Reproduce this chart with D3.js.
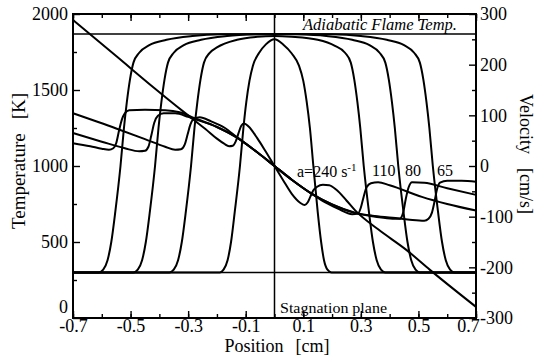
<!DOCTYPE html>
<html><head><meta charset="utf-8">
<script src="https://cdn.jsdelivr.net/npm/d3@7"></script>
<style>
body{margin:0;background:#fff}
svg{display:block}
text{font-family:"Liberation Serif","Times New Roman",serif;fill:#000}
</style>
</head><body>
<svg id="chart" width="543" height="359"></svg>
<script>
// ---------- data ----------
const xTickLabels = [-0.7,-0.5,-0.3,-0.1,0.1,0.3,0.5,0.7];
const tempTicks = [0,500,1000,1500,2000];
const velTicks = [-300,-200,-100,0,100,200,300];
const strainRates = ["240","110","80","65"];
const adiabaticT = 1868;
const unburnedT = 300;

// temperature profiles [position cm, K]
const temp65 = [[-0.7,300],[-0.61,300],[-0.595,318],[-0.58,380],[-0.567,500],[-0.553,700],[-0.535,1000],[-0.523,1250],[-0.513,1420],[-0.502,1570],[-0.49,1680],[-0.47,1745],[-0.435,1795],[-0.375,1830],[-0.285,1855],[-0.185,1866],[0,1868],[0.2,1866],[0.3,1855],[0.39,1830],[0.45,1795],[0.485,1745],[0.505,1680],[0.517,1570],[0.528,1420],[0.538,1250],[0.55,1000],[0.568,700],[0.582,500],[0.595,380],[0.61,318],[0.625,300],[0.7,300]];
const temp80 = [[-0.7,300],[-0.49,300],[-0.475,318],[-0.46,380],[-0.447,500],[-0.433,700],[-0.415,1000],[-0.403,1250],[-0.393,1420],[-0.382,1570],[-0.37,1680],[-0.35,1745],[-0.315,1795],[-0.255,1830],[-0.165,1855],[-0.065,1866],[0,1868],[0.08,1866],[0.18,1855],[0.27,1830],[0.33,1795],[0.365,1745],[0.385,1680],[0.397,1570],[0.408,1420],[0.418,1250],[0.43,1000],[0.448,700],[0.462,500],[0.475,380],[0.49,318],[0.505,300],[0.7,300]];
const temp110 = [[-0.7,300],[-0.365,300],[-0.35,318],[-0.335,380],[-0.322,500],[-0.308,700],[-0.29,1000],[-0.278,1250],[-0.268,1420],[-0.257,1570],[-0.245,1680],[-0.225,1745],[-0.2,1780],[-0.13,1830],[-0.06,1850],[0,1855],[0.06,1850],[0.15,1830],[0.21,1790],[0.245,1745],[0.265,1680],[0.277,1570],[0.288,1420],[0.298,1250],[0.31,1000],[0.328,700],[0.342,500],[0.355,380],[0.37,318],[0.385,300],[0.7,300]];
const temp240 = [[-0.7,300],[-0.19,300],[-0.177,318],[-0.163,380],[-0.151,500],[-0.138,700],[-0.12,1000],[-0.108,1250],[-0.098,1420],[-0.087,1560],[-0.075,1660],[-0.055,1740],[-0.03,1800],[0,1834],[0.03,1800],[0.06,1740],[0.085,1660],[0.1,1560],[0.112,1420],[0.123,1250],[0.135,1000],[0.15,700],[0.162,500],[0.172,380],[0.184,318],[0.198,300],[0.7,300]];

// velocity profiles [position cm, cm/s]
const vel65 = [[-0.7,45],[-0.64,39],[-0.6,34],[-0.575,32],[-0.56,35],[-0.55,45],[-0.54,70],[-0.53,92],[-0.52,104],[-0.505,110],[-0.45,111],[-0.38,110],[-0.33,106],[-0.28,95],[-0.2,77],[-0.13,56],[-0.06,27],[0,0],[0.06,-27],[0.13,-55],[0.2,-76],[0.28,-92],[0.34,-98],[0.41,-102],[0.47,-106],[0.52,-108],[0.535,-104],[0.547,-92],[0.556,-70],[0.565,-45],[0.575,-33],[0.6,-29],[0.65,-29],[0.7,-31]];
const vel80 = [[-0.7,65],[-0.6,48],[-0.52,35],[-0.47,29],[-0.45,30],[-0.438,38],[-0.428,60],[-0.418,85],[-0.405,99],[-0.385,104],[-0.345,104],[-0.3,97],[-0.28,93],[-0.2,77],[-0.13,56],[-0.06,27],[0,0],[0.06,-27],[0.13,-55],[0.2,-76],[0.28,-93],[0.35,-100],[0.41,-104],[0.435,-104],[0.447,-92],[0.456,-65],[0.466,-42],[0.478,-32],[0.52,-33],[0.6,-44],[0.7,-57]];
const vel110 = [[-0.7,104],[-0.55,74],[-0.45,53],[-0.38,38],[-0.345,32],[-0.325,33],[-0.312,42],[-0.302,62],[-0.292,82],[-0.28,93],[-0.26,96],[-0.22,88],[-0.172,75],[-0.131,57],[-0.06,27],[0,0],[0.06,-27],[0.13,-55],[0.17,-70],[0.22,-84],[0.27,-95],[0.29,-94],[0.3,-82],[0.31,-60],[0.32,-42],[0.335,-34],[0.36,-32],[0.4,-38],[0.512,-61],[0.6,-75],[0.7,-88]];
const vel240 = [[-0.7,288],[-0.55,217],[-0.42,155],[-0.34,118],[-0.28,91],[-0.24,73],[-0.2,54],[-0.175,44],[-0.158,39],[-0.145,40],[-0.135,48],[-0.125,65],[-0.115,80],[-0.105,84],[-0.09,78],[-0.06,55],[-0.03,28],[0,0],[0.03,-28],[0.06,-55],[0.09,-73],[0.105,-77],[0.115,-72],[0.125,-60],[0.135,-48],[0.148,-41],[0.168,-37],[0.19,-38],[0.215,-47],[0.25,-68],[0.281,-88],[0.36,-125],[0.459,-166],[0.54,-205],[0.7,-278]];

// ---------- layout ----------
const L = 73, R = 476, T = 14, B = 318;
const svg = d3.select("#chart");
const x = d3.scaleLinear().domain([-0.7,0.7]).range([L,R]);
const yT = d3.scaleLinear().domain([0,2000]).range([B,T]);
const yV = d3.scaleLinear().domain([-300,300]).range([B,T]);
const fmtX = d => (d<0?"-":"") + Math.abs(d).toFixed(1);
const fmtV = d => (d<0?"-":"") + Math.abs(d);

const lineT = d3.line().x(d=>x(d[0])).y(d=>yT(d[1])).curve(d3.curveMonotoneX);
const lineV = d3.line().x(d=>x(d[0])).y(d=>yV(d[1])).curve(d3.curveMonotoneX);

const g = svg.append("g");
// reference lines
g.append("line").attr("x1",L).attr("x2",R).attr("y1",yT(adiabaticT)).attr("y2",yT(adiabaticT))
 .attr("stroke","#000").attr("stroke-width",1.5);
g.append("line").attr("x1",L).attr("x2",R).attr("y1",yT(unburnedT)).attr("y2",yT(unburnedT))
 .attr("stroke","#000").attr("stroke-width",1.5);
g.append("line").attr("x1",x(0)).attr("x2",x(0)).attr("y1",T).attr("y2",B)
 .attr("stroke","#000").attr("stroke-width",1.5);

[temp65,temp80,temp110,temp240].forEach(d=>{
  g.append("path").attr("d",lineT(d)).attr("fill","none").attr("stroke","#000").attr("stroke-width",2);
});
[vel65,vel80,vel110,vel240].forEach(d=>{
  g.append("path").attr("d",lineV(d)).attr("fill","none").attr("stroke","#000").attr("stroke-width",2);
});

// axes
const minorX = d3.range(-0.7,0.7001,0.1).map(v=>+v.toFixed(2));
function styleAxis(sel){ sel.select(".domain").remove(); sel.attr("font-family",null); sel.selectAll("line").attr("stroke","#000").attr("stroke-width",1.4); sel.selectAll("text").style("font-family","'Liberation Serif',serif").style("font-size","18px").attr("fill","#000"); }
const bx = svg.append("g").attr("transform",`translate(0,${B})`)
  .call(d3.axisBottom(x).tickValues(xTickLabels).tickSize(-7).tickPadding(1).tickFormat(fmtX)).call(styleAxis);
// the last label sits left of its tick, clear of the "-300" label
bx.selectAll(".tick text").filter(d=>d===0.7).attr("dx",-8);
svg.append("g").attr("transform",`translate(0,${B})`)
  .call(d3.axisBottom(x).tickValues(minorX).tickSize(-4).tickFormat("")).call(styleAxis);
svg.append("g").attr("transform",`translate(0,${T})`)
  .call(d3.axisTop(x).tickValues(xTickLabels).tickSize(-7).tickFormat("")).call(styleAxis);
svg.append("g").attr("transform",`translate(0,${T})`)
  .call(d3.axisTop(x).tickValues(minorX).tickSize(-4).tickFormat("")).call(styleAxis);
const ly = svg.append("g").attr("transform",`translate(${L},0)`)
  .call(d3.axisLeft(yT).tickValues(tempTicks).tickSize(-7).tickPadding(5).tickFormat(d3.format("d"))).call(styleAxis);
ly.selectAll(".tick text").filter(d=>d===0).attr("dy","-0.32em");
svg.append("g").attr("transform",`translate(${L},0)`)
  .call(d3.axisLeft(yT).tickValues(d3.range(250,2000,500)).tickSize(-4).tickFormat("")).call(styleAxis);
svg.append("g").attr("transform",`translate(${R},0)`)
  .call(d3.axisRight(yV).tickValues(velTicks).tickSize(-7).tickPadding(4).tickFormat(fmtV)).call(styleAxis);
svg.append("g").attr("transform",`translate(${R},0)`)
  .call(d3.axisRight(yV).tickValues(d3.range(-250,300,100)).tickSize(-4).tickFormat("")).call(styleAxis);

// frame
svg.append("rect").attr("x",L).attr("y",T).attr("width",R-L).attr("height",B-T)
  .attr("fill","none").attr("stroke","#000").attr("stroke-width",2);

// axis titles
svg.append("text").attr("transform","translate(25,161) rotate(-90)").attr("text-anchor","middle")
  .style("font-size","19px").html('Temperature<tspan dx="14">[K]</tspan>');
svg.append("text").attr("transform","translate(520,154) rotate(90)").attr("text-anchor","middle")
  .style("font-size","18px").html('Velocity<tspan dx="14">[cm/s]</tspan>');
svg.append("text").attr("x",277).attr("y",352).attr("text-anchor","middle")
  .style("font-size","18px").html('Position<tspan dx="12">[cm]</tspan>');

// annotations
svg.append("text").attr("x",303).attr("y",30).style("font-size","16px").style("font-style","italic")
  .attr("textLength",154).attr("lengthAdjust","spacingAndGlyphs").text("Adiabatic Flame Temp.");
svg.append("text").attr("x",280).attr("y",313).style("font-size","15px")
  .attr("textLength",107).attr("lengthAdjust","spacingAndGlyphs").text("Stagnation plane");
const lab = svg.append("text").attr("x",297).attr("y",177).style("font-size","16px");
lab.append("tspan").text("a=" + strainRates[0] + " s");
lab.append("tspan").attr("dy",-6).style("font-size","11px").text("-1");
svg.append("text").attr("x",372).attr("y",176).style("font-size","16px").text(strainRates[1]);
svg.append("text").attr("x",405).attr("y",176).style("font-size","16px").text(strainRates[2]);
svg.append("text").attr("x",437).attr("y",176).style("font-size","16px").text(strainRates[3]);
</script>
</body></html>
